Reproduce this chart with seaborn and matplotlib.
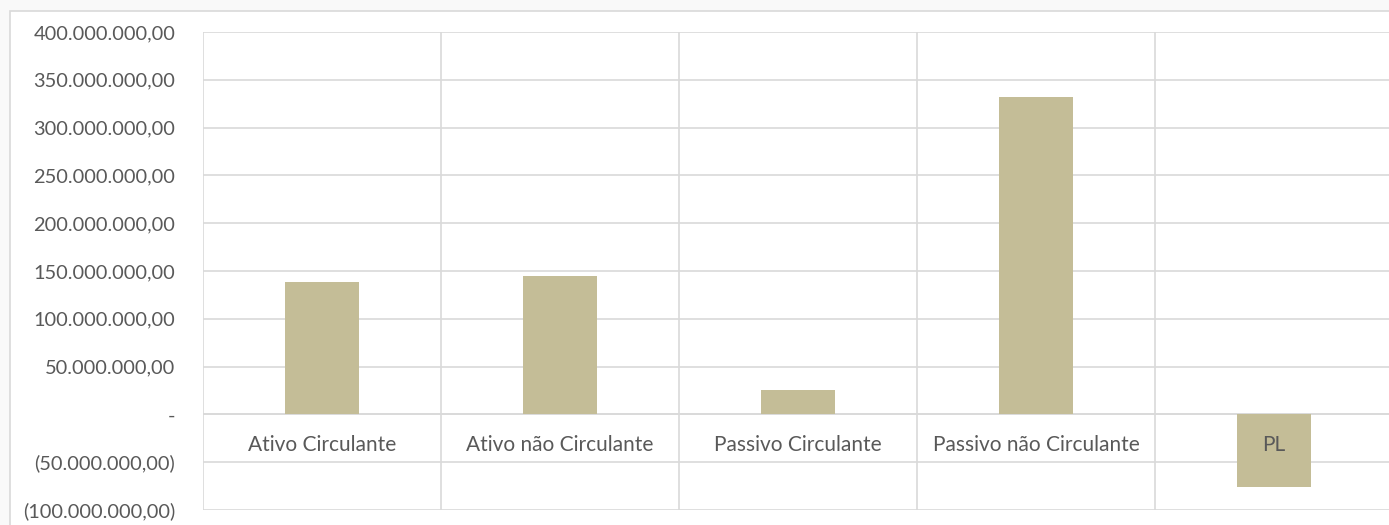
import matplotlib
matplotlib.use("Agg")
import matplotlib.pyplot as plt
import seaborn as sns
import pandas as pd
from matplotlib.patches import Rectangle

categories = ["Ativo Circulante", "Ativo não Circulante", "Passivo Circulante",
              "Passivo não Circulante", "PL"]
values = [138_000_000, 145_000_000, 26_000_000, 332_000_000, -75_500_000]
yticks = [-100_000_000, -50_000_000, 0, 50_000_000, 100_000_000, 150_000_000,
          200_000_000, 250_000_000, 300_000_000, 350_000_000, 400_000_000]

BAR = "#C4BD97"
GRID = "#D9D9D9"
TXT = "#595959"

sns.set_theme(style="white")
plt.rcParams["font.family"] = ["Lato", "DejaVu Sans"]

W, H = 1389, 525
fig = plt.figure(figsize=(W / 100, H / 100), dpi=100)
fig.patch.set_facecolor("#F9F9F9")
# chart frame (white area with light border)
fig.patches.append(Rectangle((10 / W, -0.1), 1.2, (H - 11) / H + 0.1,
                             transform=fig.transFigure, facecolor="white",
                             edgecolor=GRID, linewidth=1.2, zorder=-5))

left, right, top, bottom = 203, 1393, 32, 510
ax = fig.add_axes([left / W, 1 - bottom / H, (right - left) / W, (bottom - top) / H])
ax.set_facecolor("none")
ax.set_zorder(2)

df = pd.DataFrame({"cat": categories, "val": values})
sns.barplot(data=df, x="cat", y="val", color=BAR, width=0.315, ax=ax,
            saturation=1, linewidth=0, zorder=3)

ax.set_ylim(-100_000_000, 400_000_000)
ax.set_xlim(-0.5, len(categories) - 0.5)
ax.set_yticks(yticks)


def fmt(v):
    if v == 0:
        return "-"
    s = f"{abs(v):,.2f}".replace(",", "X").replace(".", ",").replace("X", ".")
    return f"({s})" if v < 0 else s


ax.set_yticklabels([fmt(v) for v in yticks])
ax.tick_params(axis="y", length=0, pad=20, labelsize=14.4, labelcolor=TXT)
ax.set_xticks([])
ax.set_xlabel("")
ax.set_ylabel("")
ax.yaxis.grid(True, color=GRID, linewidth=1.2, zorder=0)
for b in [x + 0.5 for x in range(-1, len(categories))]:
    ax.axvline(b, color=GRID, linewidth=1.2, zorder=0)
ax.axhline(0, color=GRID, linewidth=1.2, zorder=1)
for s in ax.spines.values():
    s.set_visible(False)

for i, c in enumerate(categories):
    ax.text(i, -32_500_000, c, ha="center", va="center", fontsize=15,
            color=TXT, zorder=5)

fig.savefig("out.png", dpi=100, facecolor=fig.get_facecolor())
